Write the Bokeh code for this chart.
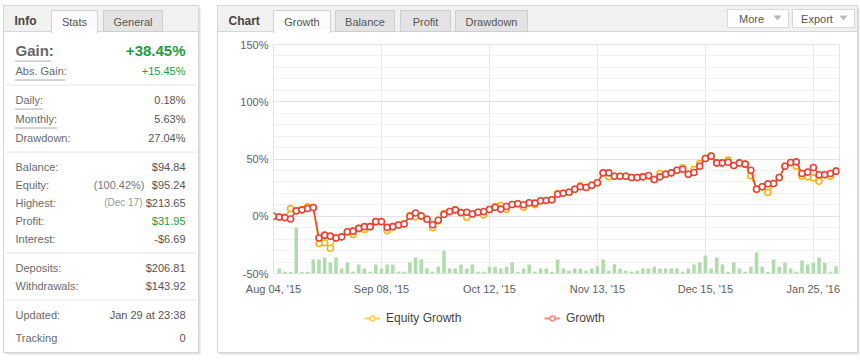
from bokeh.plotting import figure
from bokeh.models import (Range1d, FixedTicker, Label, BoxAnnotation, Arrow,
                          PolyAnnotation, Legend, LegendItem)
from bokeh.embed import file_html
from bokeh.resources import INLINE

# ---------------- data ----------------
growth = [0, -0.6, -1.2, -2.4, 4.7, 5.6, 6.8, 7.6, -19, -16.5,
          -17.4, -19, -18, -13.5, -13, -10.6, -9.1, -9.1, -4.7, -4.7,
          -9.7, -9.1, -7.6, -6.8, 0, 2.9, 0.3, -2.6, -7.4, -3.5,
          1.5, 4.1, 5.6, 3.2, 3.5, 2, 3.5, 4.1, 5.9, 7.9,
          6.2, 8.5, 10.3, 10.9, 10, 11.8, 11.5, 13.5, 13.8, 14.4,
          19.2, 20.1, 21, 23.6, 25.7, 25.1, 27.1, 29.2, 37.9, 37.9,
          35, 35, 35, 33.8, 33.8, 34.4, 35.6, 32.1, 34.4, 36.7,
          37.9, 40.2, 41.1, 36.7, 38.2, 43.7, 50.4, 52.5, 46.6, 46.6,
          47.2, 44.3, 46.6, 45.5, 40.2, 23.6, 25.7, 28.3, 28.6, 33.8,
          43.7, 46.9, 47.5, 37.3, 38.5, 42.6, 36.2, 36.2, 37.3, 39.4]

equity = [0, -0.6, -1.2, 6.8, 4.7, 5.6, 8.2, 7.6, -23.8, -23.2,
          -28, -19, -18, -13.5, -15.9, -10.6, -11.5, -9.1, -4.7, -4.7,
          -12.6, -9.1, -7.6, -6.8, 0.6, -0.6, 0, -2.6, -10, -4,
          2.6, 4.1, 5.6, 3.2, -0.9, 2, 3.5, 1.2, 5.9, 8.5,
          9.4, 6.2, 10.3, 10.9, 7.9, 11.8, 10, 13.5, 13.8, 14.4,
          19.8, 20.1, 21, 23.6, 26.5, 25.1, 27.1, 29.2, 37.9, 34.4,
          35, 35, 35, 33.8, 33.8, 34.4, 35, 32.1, 37.3, 36.7,
          37.9, 40.2, 42.3, 36.7, 40.8, 46, 50.4, 52.5, 46.6, 46.6,
          49, 44.3, 46.6, 45.5, 35.3, 23.6, 25.7, 20.7, 28.6, 33.8,
          43.7, 46.9, 43.7, 35, 34.4, 33.5, 30.6, 36.2, 35, 39.4]

volume = [0, 5, 1.7, 1.7, 46, 1.7, 1.7, 14, 14, 16,
          11, 16, 5, 11, 1.7, 9, 5, 1.7, 9, 5,
          9, 9, 1.7, 1.7, 11, 16, 14, 5, 1.7, 6.7,
          22.7, 5, 5, 9, 5, 9, 1.7, 1.7, 6.7, 6.7,
          5, 6.7, 11, 1.7, 5, 9, 1.7, 5, 5, 1.7,
          14, 5, 2.7, 5, 5, 2.7, 5, 7.3, 14, 2.7,
          9.3, 5, 2.7, 1.7, 2.7, 5, 5, 6.7, 5, 5,
          5, 5, 1.7, 5, 9, 11, 18, 5, 16, 9,
          1.7, 11, 5, 1.7, 6.7, 21, 6.7, 1.7, 14, 6.7,
          11, 5, 1.7, 13, 9, 10.7, 16, 10.7, 1.7, 7.3]

x_tick_index = [0, 19, 38, 57, 76, 95]
x_tick_labels = ["Aug 04, '15", "Sep 08, '15", "Oct 12, '15",
                 "Nov 13, '15", "Dec 15, '15", "Jan 25, '16"]
y_ticks = [-50, 0, 50, 100, 150]
y_tick_labels = ["-50%", "0%", "50%", "100%", "150%"]
y_minor = [-40, -30, -20, -10, 10, 20, 30, 40, 60, 70, 80, 90,
           110, 120, 130, 140]

series_names = ["Equity Growth", "Growth"]
left_tabs = ["Info", "Stats", "General"]
chart_tabs = ["Chart", "Growth", "Balance", "Profit", "Drawdown"]
buttons = ["More", "Export"]

stat_labels = ["Abs. Gain:", "Daily:", "Monthly:", "Drawdown:", "Balance:",
               "Equity:", "Highest:", "Profit:", "Interest:", "Deposits:",
               "Withdrawals:", "Updated:", "Tracking"]
stat_values = ["+15.45%", "0.18%", "5.63%", "27.04%", "$94.84",
               "$95.24", "$213.65", "$31.95", "-$6.69", "$206.81",
               "$143.92", "Jan 29 at 23:38", "0"]
gain_label, gain_value = "Gain:", "+38.45%"
equity_note, highest_note = "(100.42%)", "(Dec 17)"

# ---------------- styles ----------------
FONT = "Liberation Sans"
RED = "#e8423a"
YEL = "#f6b40e"
GREEN = "#1c9e3e"
BAR = "#b0dcab"
LBL = "#6a6a6a"
VAL = "#555555"
BORDER = "#d6d6d6"

idx = list(range(len(growth)))

# ---------------- background (panels, texts) ----------------
bg = figure(width=860, height=360, output_backend="svg", toolbar_location=None,
            x_range=Range1d(0, 860), y_range=Range1d(360, 0),
            x_axis_type=None, y_axis_type=None, min_border=0,
            outline_line_color=None, background_fill_color="white",
            border_fill_color="white")
bg.grid.visible = False


def box(l, r, t, b, fill=None, line=None, lw=1):
    bg.add_layout(BoxAnnotation(left=l, right=r, top=t, bottom=b,
                                fill_color=fill, fill_alpha=1,
                                line_color=line, line_alpha=1, line_width=lw))


def seg(x0, y0, x1, y1, color, dash="solid", lw=1):
    bg.add_layout(Arrow(x_start=x0, y_start=y0, x_end=x1, y_end=y1, end=None,
                        line_color=color, line_width=lw, line_dash=dash))


def text(x, y, s, size="11px", color=LBL, align="left", bold=False):
    bg.add_layout(Label(x=x, y=y, text=s, text_font=FONT, text_font_size=size,
                        text_color=color, text_align=align,
                        text_baseline="middle",
                        text_font_style="bold" if bold else "normal"))


def tri(cx, cy):
    bg.add_layout(PolyAnnotation(xs=[cx - 4, cx + 4, cx],
                                 ys=[cy - 2, cy - 2, cy + 3],
                                 fill_color="#b8b8b8", fill_alpha=1,
                                 line_color=None))


def shadow(l, r, t, b):
    seg(l + 2, b + 1, r + 1, b + 1, "#e2e2e2")
    seg(r + 1, t + 2, r + 1, b + 1, "#e2e2e2")
    seg(l + 3, b + 2, r + 2, b + 2, "#f0f0f0")
    seg(r + 2, t + 3, r + 2, b + 2, "#f0f0f0")


# left panel
shadow(3, 198, 5, 352)
box(3, 198, 5, 352, fill="white", line=BORDER)
box(3, 198, 5, 31, fill="#f1f1f1", line=BORDER)
box(51, 97, 10, 32, fill="#fbfbfb", line="#d3d3d3")
box(52, 96, 30, 33, fill="white", line=None)
box(103, 162, 10, 31, fill="#e3e3e3", line="#cdcdcd")
text(14, 20, left_tabs[0], size="12px", color="#444444", bold=True)
text(74, 21, left_tabs[1], color="#555555", align="center")
text(132.5, 21, left_tabs[2], color="#555555", align="center")

text(15, 50, gain_label, size="15px", color="#666666", bold=True)
text(185, 50, gain_value, size="15px", color=GREEN, align="right", bold=True)
seg(15, 60.5, 51, 60.5, "#555555", dash="1 1")

rows_y = [70, 99, 118, 137, 166, 184, 202, 220, 238, 267, 285, 314, 337]
for lab, val, y in zip(stat_labels, stat_values, rows_y):
    text(15, y, lab)
    col = GREEN if val in ("+15.45%", "$31.95") else VAL
    text(185, y, val, color=col, align="right")
text(144, 184, equity_note, color="#777777", align="right")
text(142, 202, highest_note, size="10px", color="#999999", align="right")
seg(15, 79.5, 65, 79.5, "#555555", dash="1 1")
seg(15, 108.5, 43, 108.5, "#555555", dash="1 1")
seg(15, 127.5, 57, 127.5, "#555555", dash="1 1")
for y in [84.5, 151.5, 252.5, 299.5]:
    seg(5, y, 196, y, "#e6e6e6")

# right panel
shadow(217, 857, 5, 352)
box(217, 857, 5, 352, fill="white", line=BORDER)
box(217, 857, 5, 31, fill="#f1f1f1", line=BORDER)
text(228, 20, chart_tabs[0], size="12px", color="#444444", bold=True)
tabs = [(273, 330), (335, 394), (400, 450), (455, 527)]
for i, (l, r) in enumerate(tabs):
    if i == 0:
        box(l, r, 10, 32, fill="#fbfbfb", line="#d3d3d3")
        box(l + 1, r - 1, 30, 33, fill="white", line=None)
    else:
        box(l, r, 10, 31, fill="#e3e3e3", line="#cdcdcd")
    text((l + r) / 2, 21, chart_tabs[i + 1], color="#555555", align="center")

box(727, 788, 9, 27, fill="white", line="#d9d9d9")
box(792, 854, 9, 27, fill="white", line="#d9d9d9")
text(751, 18, buttons[0], color="#555555", align="center")
text(816.5, 18, buttons[1], color="#555555", align="center")
tri(777, 17)
tri(843, 17)

# legend keys: stand-in renderers whose single point lies off the page
off = dict(x=[-40, -30], y=[-40, -40])
eq_l = bg.line(off["x"], off["y"], color="#ffcf4d", line_width=2)
eq_s = bg.scatter(off["x"][:1], off["y"][:1], size=6, fill_color="white",
                  line_color="#ffcf4d", line_width=1.5)
gr_l = bg.line(off["x"], off["y"], color="#f28a84", line_width=2)
gr_s = bg.scatter(off["x"][:1], off["y"][:1], size=6, fill_color="white",
                  line_color="#f28a84", line_width=1.5)
for name, rs, x0 in [(series_names[0], [eq_l, eq_s], 364),
                     (series_names[1], [gr_l, gr_s], 544)]:
    lg = Legend(items=[LegendItem(label=name, renderers=rs)], location=(x0, 35),
                padding=0, margin=0, spacing=0, border_line_color=None,
                background_fill_alpha=0, glyph_width=16, glyph_height=12,
                label_height=12, label_standoff=6, label_text_font=FONT,
                label_text_font_size="12px", label_text_color="#444444")
    bg.add_layout(lg)

# ---------------- chart (transparent, laid over the background) ----------------
p = figure(width=860, height=360, output_backend="svg", toolbar_location=None,
           x_range=Range1d(0, 99.6), y_range=Range1d(-50, 150),
           min_border_left=273, min_border_right=21, min_border_top=44,
           min_border_bottom=87, background_fill_color=None,
           border_fill_color=None, outline_line_color="#e4e4e4",
           styles={"position": "absolute", "left": "0px", "top": "0px"})
p.extra_y_ranges = {"vol": Range1d(0, 229)}

yt = FixedTicker(ticks=y_ticks, minor_ticks=y_minor)
xt = FixedTicker(ticks=x_tick_index)
for ax, tk, ov, so in [(p.yaxis[0], yt, dict(zip(y_ticks, y_tick_labels)), 5),
                       (p.xaxis[0], xt, dict(zip(x_tick_index, x_tick_labels)), 9)]:
    ax.ticker = tk
    ax.major_label_overrides = ov
    ax.axis_line_color = None
    ax.major_tick_line_color = None
    ax.minor_tick_line_color = None
    ax.major_tick_out = 0
    ax.major_tick_in = 0
    ax.minor_tick_out = 0
    ax.major_label_standoff = so
    ax.major_label_text_font = FONT
    ax.major_label_text_font_size = "11px"
    ax.major_label_text_color = "#606060"
p.ygrid.ticker = yt
p.xgrid.ticker = xt
p.ygrid.grid_line_color = "#e2e2e2"
p.ygrid.minor_grid_line_color = "#f1f1f1"
p.xgrid.grid_line_color = "#e6e6e6"

p.vbar(x=idx, top=volume, bottom=0, width=0.62, y_range_name="vol",
       fill_color=BAR, line_color=None)
p.line(idx, equity, color=YEL, line_width=1.5)
p.scatter(idx, equity, size=6, fill_color="white", line_color=YEL, line_width=1.6)
p.line(idx, growth, color=RED, line_width=1.5)
p.scatter(idx, growth, size=6, fill_color="white", line_color=RED, line_width=1.6)

open("out.html", "w").write(file_html([bg, p], INLINE))
